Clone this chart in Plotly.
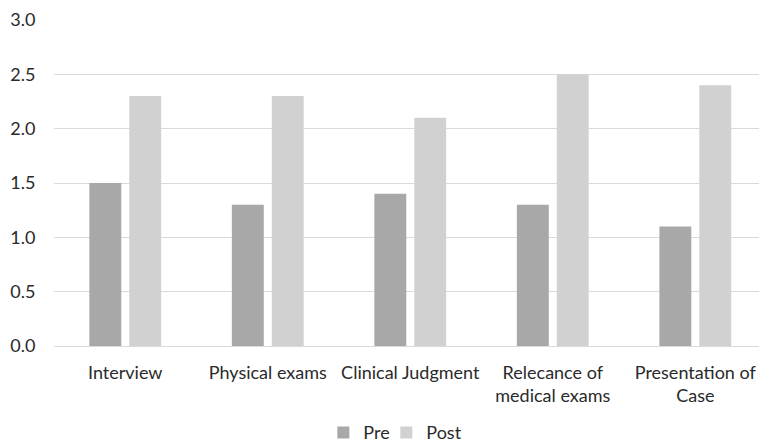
import plotly.graph_objects as go

categories = ["Interview", "Physical exams", "Clinical Judgment",
              "Relecance of<br>medical exams", "Presentation of<br>Case"]
pre_values = [1.5, 1.3, 1.4, 1.3, 1.1]
post_values = [2.3, 2.3, 2.1, 2.5, 2.4]
y_ticks = [0.0, 0.5, 1.0, 1.5, 2.0, 2.5, 3.0]

FONT = "Lato"
TEXT = "#2A2A2A"
GRID = "#DADADA"

fig = go.Figure()
fig.add_trace(go.Bar(name="Pre", x=categories, y=pre_values, legend="legend",
                     marker=dict(color="#A8A8A8", line=dict(width=0))))
fig.add_trace(go.Bar(name="Post", x=categories, y=post_values, legend="legend2",
                     marker=dict(color="#D0D1D0", line=dict(width=0))))

legend_common = dict(orientation="h", xref="container", yref="container",
                     xanchor="left", y=0.034, yanchor="middle",
                     font=dict(family=FONT, size=18, color=TEXT),
                     itemwidth=30, bgcolor="rgba(0,0,0,0)")

fig.update_layout(
    width=759, height=448,
    margin=dict(l=54, r=0, t=20, b=101.5, autoexpand=False),
    paper_bgcolor="white", plot_bgcolor="white",
    barmode="group", bargap=0.44, bargroupgap=0.2,
    font=dict(family=FONT, size=18, color=TEXT),
    showlegend=True,
    legend=dict(x=0.426, **legend_common),
    legend2=dict(x=0.509, **legend_common),
    xaxis=dict(range=[-0.5, 4.447], showgrid=False, showline=False, automargin=False,
               ticks="outside", ticklen=10, tickcolor="rgba(0,0,0,0)",
               tickfont=dict(family=FONT, size=18, color=TEXT)),
    yaxis=dict(range=[0, 3.0], tickvals=y_ticks, automargin=False,
               ticktext=[f"{v:.1f}" for v in y_ticks],
               showgrid=True, gridcolor=GRID, gridwidth=1,
               zeroline=True, zerolinecolor=GRID, zerolinewidth=1,
               showline=False, ticks="outside", ticklen=14, tickcolor="rgba(0,0,0,0)",
               tickfont=dict(family=FONT, size=18, color=TEXT)),
)

fig.write_html("out.html")
